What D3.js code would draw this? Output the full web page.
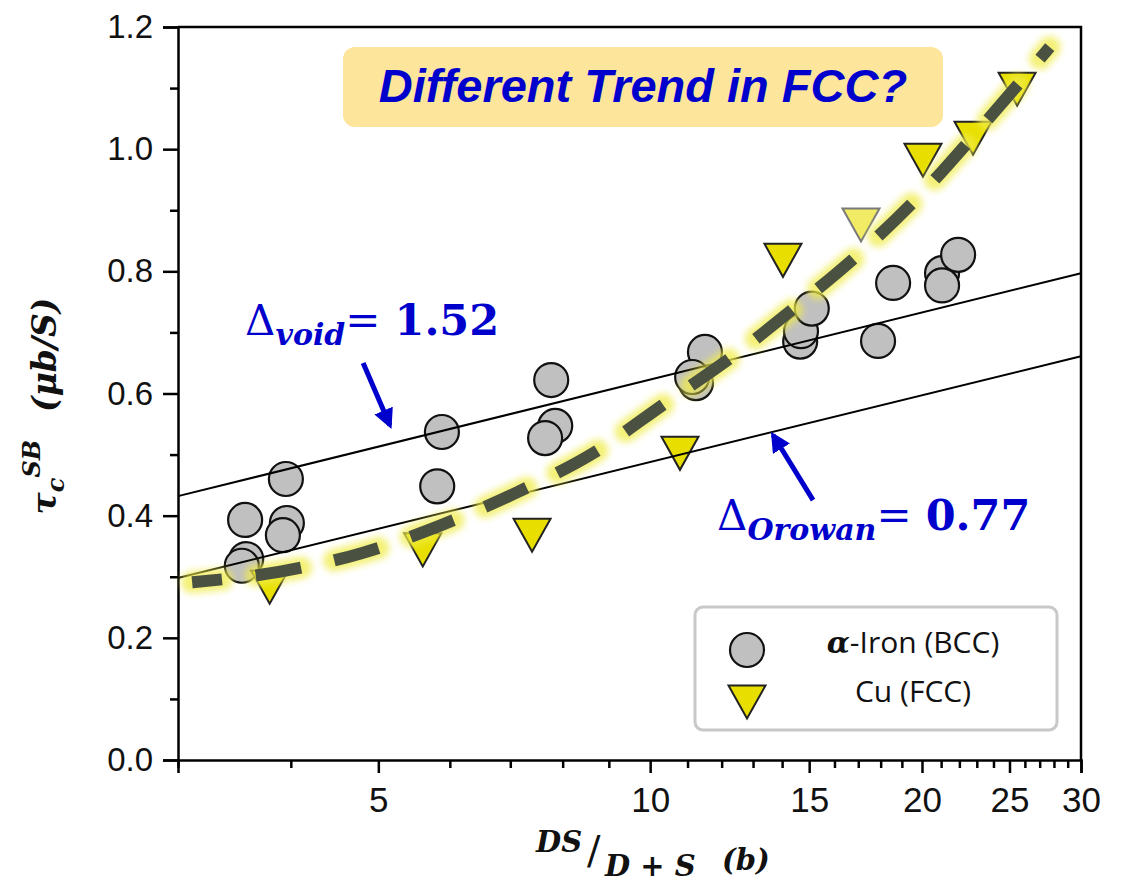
<!DOCTYPE html>
<html>
<head>
<meta charset="utf-8">
<script src="https://cdn.jsdelivr.net/npm/d3@7"></script>
<style>
  body { margin: 0; background: #fff; }
  svg { display: block; }
</style>
</head>
<body>
<div id="chart"></div>
<script>
var w = 1127
var h = 885

// alpha-Iron (BCC) points
var ironX = [3.56, 3.95, 3.96, 3.92, 3.57, 3.53, 5.88, 5.81, 7.77, 7.85, 7.65,
             11.50, 11.24, 11.13, 14.66, 14.69, 15.1, 18.58, 21.05, 21.05, 21.93, 17.88];
var ironY = [0.393, 0.460, 0.388, 0.368, 0.329, 0.318, 0.537, 0.448, 0.622, 0.547, 0.527,
             0.668, 0.617, 0.627, 0.685, 0.702, 0.739, 0.781, 0.797, 0.777, 0.827, 0.686];

// Cu (FCC) points
var cuX = [3.79, 5.60, 7.40, 10.79, 14.03, 17.12, 20.05, 22.78, 25.49];
var cuY = [0.283, 0.344, 0.368, 0.502, 0.818, 0.876, 0.982, 1.018, 1.098];

// dashed FCC trend
var trendX = [3.11, 3.88, 4.80, 5.88, 7.14, 8.64, 10.39, 12.32, 14.58, 17.16, 20.0, 23.1, 27.7];
var trendY = [0.291, 0.308, 0.339, 0.385, 0.439, 0.502, 0.584, 0.660, 0.745, 0.833, 0.928, 1.031, 1.167];

// straight fits
var fitX = [3, 30];
var voidFit = [0.432, 0.797];
var orowanFit = [0.298, 0.661];

var xMajor = [5, 10, 15, 20, 25, 30];
var xMinor = [3, 4, 6, 7, 8, 9, 11, 12, 13, 14, 16, 17, 18, 19, 21, 22, 23, 24, 26, 27, 28, 29];
var yMajor = [0, 0.2, 0.4, 0.6, 0.8, 1.0, 1.2];
var yMinor = [0.1, 0.3, 0.5, 0.7, 0.9, 1.1];

var legendLabels = ["-Iron (BCC)", "Cu (FCC)"];

var blue = "#0000cc";
var serif = "'DejaVu Serif', serif";
var sans = "'Liberation Sans', Arial, sans-serif";

var x = d3.scaleLog().domain([3, 30]).range([178, 1081]);
var y = d3.scaleLinear().domain([0, 1.2]).range([760, 27]);

var svg = d3.select("#chart").append("svg")
    .attr("width", w)
    .attr("height", h);

var defs = svg.append("defs");
defs.append("filter").attr("id", "glow")
    .attr("x", "-20%").attr("y", "-20%").attr("width", "140%").attr("height", "140%")
  .append("feGaussianBlur").attr("stdDeviation", 3.5);

var marker = defs.append("marker")
    .attr("id", "arrow")
    .attr("viewBox", "0 0 10 10")
    .attr("refX", 8).attr("refY", 5)
    .attr("markerWidth", 4).attr("markerHeight", 4)
    .attr("orient", "auto")
    .attr("markerUnits", "strokeWidth");
marker.append("path").attr("d", "M0,0 L10,5 L0,10 Z").attr("fill", blue);

// ---- axes ----
var xAxis = svg.append("g")
    .attr("transform", "translate(0,760)")
    .call(d3.axisBottom(x).tickValues(xMajor).tickSize(13).tickPadding(14)
          .tickFormat(d3.format("d")));
svg.append("g")
    .attr("transform", "translate(0,760)")
    .call(d3.axisBottom(x).tickValues(xMinor).tickSize(8).tickFormat(""))
    .select(".domain").remove();

var yAxis = svg.append("g")
    .attr("transform", "translate(178,0)")
    .call(d3.axisLeft(y).tickValues(yMajor).tickSize(15).tickPadding(10)
          .tickFormat(d3.format(".1f")));
svg.append("g")
    .attr("transform", "translate(178,0)")
    .call(d3.axisLeft(y).tickValues(yMinor).tickSize(8).tickFormat(""))
    .select(".domain").remove();

svg.selectAll(".tick line").attr("stroke", "#000").attr("stroke-width", 2.5);
svg.selectAll(".domain").attr("stroke", "#000").attr("stroke-width", 2.5);
xAxis.selectAll("text").style("font-family", sans).style("font-size", "35px").attr("fill", "#111");
yAxis.selectAll("text").style("font-family", sans).style("font-size", "33px").attr("fill", "#111");

// top & right frame
svg.append("path")
    .attr("d", "M178," + y(1.2) + " H" + x(30) + " V" + y(0))
    .attr("fill", "none").attr("stroke", "#000").attr("stroke-width", 2.5);

// ---- data ----
var iron = ironX.map(function(d, i) { return [d, ironY[i]]; });
var cu = cuX.map(function(d, i) { return [d, cuY[i]]; });
var trend = trendX.map(function(d, i) { return [d, trendY[i]]; });

svg.selectAll("circle.iron").data(iron).enter()
  .append("circle")
    .attr("class", "iron")
    .attr("cx", function(d) { return x(d[0]); })
    .attr("cy", function(d) { return y(d[1]); })
    .attr("r", 17)
    .attr("fill", "#c0c0c0")
    .attr("stroke", "#111")
    .attr("stroke-width", 2.2);

var tri = "M-18.5,-16.5 L18.5,-16.5 L0,16.5 Z";
svg.selectAll("path.cu").data(cu).enter()
  .append("path")
    .attr("class", "cu")
    .attr("d", tri)
    .attr("transform", function(d) { return "translate(" + x(d[0]) + "," + y(d[1]) + ")"; })
    .attr("fill", "#e8df00")
    .attr("stroke", "#222")
    .attr("stroke-width", 2)
    .attr("opacity", function(d, i) { return i === 5 ? 0.6 : 1; });

var fitLine = d3.line()
    .x(function(d) { return x(d[0]); })
    .y(function(d) { return y(d[1]); });

[voidFit, orowanFit].forEach(function(f) {
  svg.append("path")
    .datum(fitX.map(function(d, i) { return [d, f[i]]; }))
    .attr("d", fitLine)
    .attr("fill", "none")
    .attr("stroke", "#000")
    .attr("stroke-width", 2);
});

var trendLine = d3.line()
    .curve(d3.curveMonotoneX)
    .x(function(d) { return x(d[0]); })
    .y(function(d) { return y(d[1]); });

svg.append("path")
    .datum(trend)
    .attr("d", trendLine)
    .attr("fill", "none")
    .attr("stroke", "#f0ec4a")
    .attr("stroke-width", 22)
    .attr("stroke-linecap", "round")
    .attr("stroke-dasharray", "46,34")
    .attr("stroke-dashoffset", 16)
    .attr("opacity", 0.75)
    .attr("filter", "url(#glow)");

svg.append("path")
    .datum(trend)
    .attr("d", trendLine)
    .attr("fill", "none")
    .attr("stroke", "#4a5140")
    .attr("stroke-width", 12)
    .attr("stroke-dasharray", "46,34")
    .attr("stroke-dashoffset", 16);

// ---- annotations ----
svg.append("line")
    .attr("x1", x(4.81)).attr("y1", y(0.650))
    .attr("x2", x(5.15)).attr("y2", y(0.548))
    .attr("stroke", blue).attr("stroke-width", 5)
    .attr("marker-end", "url(#arrow)");

svg.append("line")
    .attr("x1", x(15.15)).attr("y1", y(0.4255))
    .attr("x2", x(13.68)).attr("y2", y(0.532))
    .attr("stroke", blue).attr("stroke-width", 5)
    .attr("marker-end", "url(#arrow)");

function deltaLabel(px, py, sub, val) {
  var t = svg.append("text")
      .attr("x", px).attr("y", py)
      .attr("fill", blue)
      .style("font-family", serif);
  t.append("tspan").style("font-size", "42px").text("\u0394");
  t.append("tspan").attr("dy", 10).style("font-size", "30px")
      .style("font-weight", "bold").style("font-style", "italic").text(sub);
  t.append("tspan").attr("dy", -10).style("font-size", "42px").text("=");
  t.append("tspan").attr("dx", 14).style("font-size", "43px")
      .style("font-weight", "bold").text(val);
}
deltaLabel(x(3.56), y(0.696), "void", "1.52");
deltaLabel(x(11.86), y(0.376), "Orowan", "0.77");

// title box
svg.append("rect")
    .attr("x", 343).attr("y", 47)
    .attr("width", 600).attr("height", 80)
    .attr("rx", 12)
    .attr("fill", "#fee59c");
svg.append("text")
    .attr("x", 643).attr("y", 102)
    .attr("text-anchor", "middle")
    .attr("fill", blue)
    .style("font-family", sans)
    .style("font-size", "47px")
    .style("font-weight", "bold")
    .style("font-style", "italic")
    .text("Different Trend in FCC?");

// ---- legend ----
svg.append("rect")
    .attr("x", 695).attr("y", 607)
    .attr("width", 362).attr("height", 123)
    .attr("rx", 8)
    .attr("fill", "#fff")
    .attr("stroke", "#c8c8c8")
    .attr("stroke-width", 3);
svg.append("circle")
    .attr("cx", 747).attr("cy", 650).attr("r", 17)
    .attr("fill", "#c0c0c0").attr("stroke", "#111").attr("stroke-width", 2.2);
svg.append("path")
    .attr("d", tri)
    .attr("transform", "translate(747,702)")
    .attr("fill", "#e8df00").attr("stroke", "#222").attr("stroke-width", 2);

var l1 = svg.append("text")
    .attr("x", 913).attr("y", 653)
    .attr("text-anchor", "middle")
    .attr("fill", "#111")
    .style("font-family", "'Open Sans', sans-serif")
    .style("font-size", "30px");
l1.append("tspan").style("font-family", serif).style("font-weight", "bold")
    .style("font-style", "italic").text("\u03b1");
l1.append("tspan").text(legendLabels[0]);

svg.append("text")
    .attr("x", 913).attr("y", 702)
    .attr("text-anchor", "middle")
    .attr("fill", "#111")
    .style("font-family", "'Open Sans', sans-serif")
    .style("font-size", "30px")
    .text(legendLabels[1]);

// ---- axis titles ----
var yt = svg.append("text")
    .attr("transform", "translate(56,406) rotate(-90)")
    .attr("text-anchor", "middle")
    .attr("fill", "#111")
    .style("font-family", serif)
    .style("font-weight", "bold")
    .style("font-style", "italic")
    .style("font-size", "33px");
yt.append("tspan").text("\u03c4");
yt.append("tspan").attr("dy", 8).style("font-size", "24px").text("c");
yt.append("tspan").attr("dy", -24).style("font-size", "24px").text("SB");
yt.append("tspan").attr("dy", 16).attr("dx", 28).text("(\u03bcb/S)");

var xt = svg.append("g")
    .attr("fill", "#111")
    .style("font-family", serif)
    .style("font-size", "29px");
xt.append("text").attr("x", 536).attr("y", 852)
    .style("font-weight", "bold").style("font-style", "italic").text("DS");
xt.append("text").attr("x", 587).attr("y", 864)
    .style("font-size", "40px").text("/");
xt.append("text").attr("x", 605).attr("y", 876)
    .style("font-weight", "bold").style("font-style", "italic").text("D + S");
xt.append("text").attr("x", 722).attr("y", 870)
    .style("font-weight", "bold").style("font-style", "italic").text("(b)");
</script>
</body>
</html>
